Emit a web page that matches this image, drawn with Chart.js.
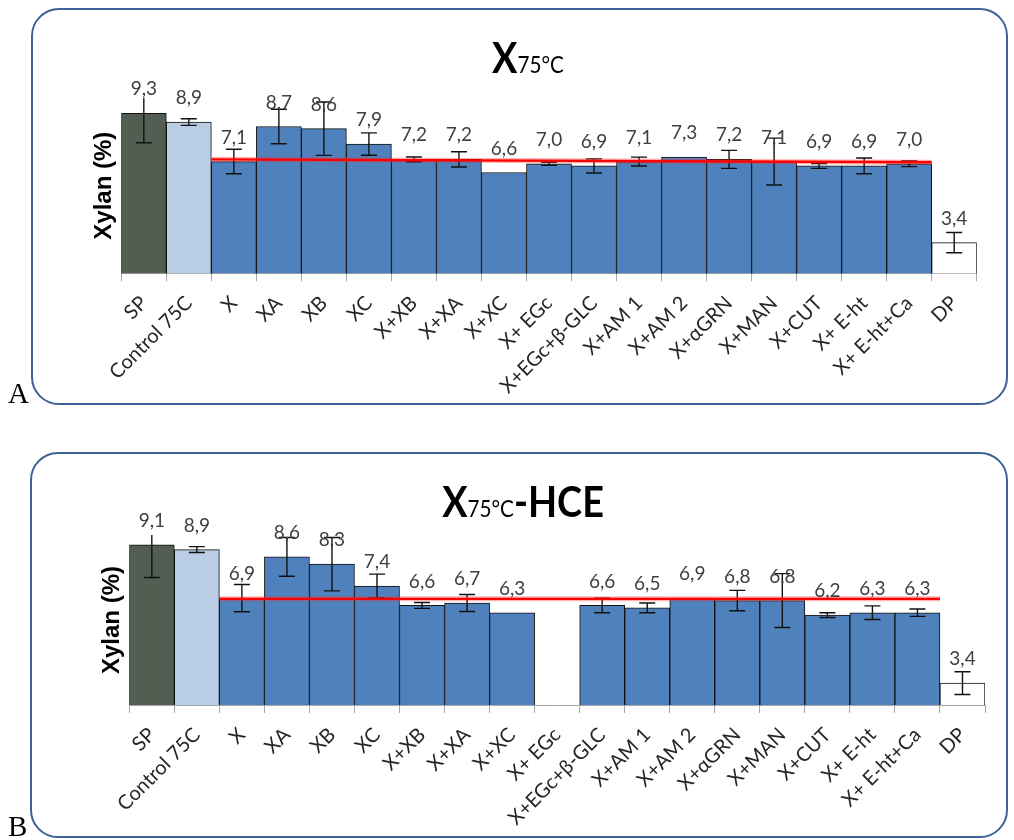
<!DOCTYPE html>
<html>
<head>
<meta charset="utf-8">
<script src="https://cdn.jsdelivr.net/npm/chart.js@4.4.1/dist/chart.umd.min.js"></script>
<style>
  html, body { margin: 0; padding: 0; background: #fff; }
  body { width: 1014px; height: 840px; position: relative; overflow: hidden; }
  .frame { position: absolute; border: 2px solid #3d6297; border-radius: 28px; box-sizing: border-box; }
  .tag { position: absolute; font-family: "Liberation Serif", "Times New Roman", serif; font-size: 29px; line-height: 1; color: #000; }
  canvas { position: absolute; left: 0; }
</style>
</head>
<body>
<div class="frame" style="left:31px;top:8px;width:977px;height:397px"></div>
<div class="frame" style="left:30px;top:452px;width:978px;height:386px"></div>
<canvas id="chartA" width="1014" height="420" style="top:0"></canvas>
<canvas id="chartB" width="1014" height="420" style="top:420px"></canvas>
<div class="tag" style="left:8px;top:379px">A</div>
<div class="tag" style="left:8px;top:812px">B</div>

<script>
// Treatments shown on the x axis (same order in both panels)
const categories = ['SP', 'Control 75C', 'X', 'XA', 'XB', 'XC', 'X+XB', 'X+XA', 'X+XC', 'X+ EGc',
  'X+EGc+β-GLC', 'X+AM 1', 'X+AM 2', 'X+αGRN', 'X+MAN', 'X+CUT', 'X+ E-ht', 'X+ E-ht+Ca', 'DP'];

// Panel A: X 75°C — xylan content (%) and standard deviations
const xylanA = [9.3, 8.9, 7.1, 8.7, 8.6, 7.9, 7.2, 7.2, 6.6, 7.0, 6.9, 7.1, 7.3, 7.2, 7.1, 6.9, 6.9, 7.0, 3.4];
const sdA    = [1.34, 0.15, 0.56, 0.79, 1.22, 0.51, 0.11, 0.35, 0, 0.07, 0.32, 0.2, 0, 0.41, 1.07, 0.11, 0.36, 0.13, 0.46];
const refA   = [7.2, 7.07];   // reference line level at its start / end

// Panel B: X 75°C-HCE — xylan content (%) and standard deviations (X+ EGc not measured)
const xylanB = [9.1, 8.9, 6.9, 8.6, 8.3, 7.4, 6.6, 6.7, 6.3, null, 6.6, 6.5, 6.9, 6.8, 6.8, 6.2, 6.3, 6.3, 3.4];
const sdB    = [1.35, 0.12, 0.56, 0.8, 1.1, 0.49, 0.12, 0.35, 0, 0, 0.3, 0.2, 0, 0.42, 1.11, 0.1, 0.28, 0.15, 0.47];
const refB   = [6.87, 6.87];

// The reference line runs from the left edge of "X" to the right edge of "X+ E-ht+Ca"
const refFrom = 'X', refTo = 'X+ E-ht+Ca';

function barColor(cat) {
  if (cat === 'SP') return '#525e51';
  if (cat === 'Control 75C') return '#b9cde5';
  if (cat === 'DP') return '#ffffff';
  return '#4f81bd';
}

const fmt = v => v.toFixed(1).replace('.', ',');

// Error bars, clipped to the plot area
const errorBars = {
  id: 'errorBars',
  afterDatasetDraw(chart, args) {
    const ds = chart.data.datasets[args.index];
    if (!ds.errors) return;
    const { ctx, chartArea: a } = chart;
    const y = chart.scales.y;
    ctx.save();
    ctx.beginPath();
    ctx.rect(a.left, a.top, a.right - a.left, a.bottom - a.top);
    ctx.clip();
    ctx.strokeStyle = '#111';
    ctx.lineWidth = 1.4;
    args.meta.data.forEach((bar, i) => {
      const v = ds.data[i], e = ds.errors[i];
      if (v == null || !e) return;
      const hi = y.getPixelForValue(v + e), lo = y.getPixelForValue(v - e);
      const c = 8;
      ctx.beginPath();
      ctx.moveTo(bar.x, hi); ctx.lineTo(bar.x, lo);
      ctx.moveTo(bar.x - c, hi); ctx.lineTo(bar.x + c, hi);
      ctx.moveTo(bar.x - c, lo); ctx.lineTo(bar.x + c, lo);
      ctx.stroke();
    });
    ctx.restore();
  }
};

// Red reference line across the treatment bars
const refLine = {
  id: 'refLine',
  afterDatasetsDraw(chart, args, opts) {
    if (!opts.values) return;
    const xs = chart.scales.x, ys = chart.scales.y, ctx = chart.ctx;
    const half = (xs.getPixelForValue(1) - xs.getPixelForValue(0)) / 2;
    const x0 = xs.getPixelForValue(categories.indexOf(refFrom)) - half;
    const x1 = xs.getPixelForValue(categories.indexOf(refTo)) + half;
    ctx.save();
    ctx.strokeStyle = 'rgba(255, 40, 40, 0.35)';
    ctx.lineWidth = 5;
    ctx.beginPath();
    ctx.moveTo(x0, ys.getPixelForValue(opts.values[0]));
    ctx.lineTo(x1, ys.getPixelForValue(opts.values[1]));
    ctx.stroke();
    ctx.strokeStyle = '#ff0000';
    ctx.lineWidth = 2.4;
    ctx.stroke();
    ctx.restore();
  }
};

// Value labels above each bar
const valueLabels = {
  id: 'valueLabels',
  afterDatasetsDraw(chart) {
    const ctx = chart.ctx;
    chart.data.datasets.forEach((ds, di) => {
      if (!ds.errors) return;
      const meta = chart.getDatasetMeta(di);
      ctx.save();
      ctx.font = '19px Lato, "Noto Sans", sans-serif';
      ctx.fillStyle = '#404040';
      ctx.textAlign = 'center';
      ctx.textBaseline = 'middle';
      meta.data.forEach((bar, i) => {
        const v = ds.data[i];
        if (v == null) return;
        ctx.fillText(fmt(v), bar.x, bar.y - 24);
      });
      ctx.restore();
    });
  }
};

// Panel heading made of differently sized parts
const panelTitle = {
  id: 'panelTitle',
  afterDraw(chart, args, opts) {
    if (!opts.parts) return;
    const ctx = chart.ctx;
    const sx = opts.squeeze || 1;
    ctx.save();
    ctx.fillStyle = '#000';
    ctx.textBaseline = 'alphabetic';
    ctx.textAlign = 'left';
    const widths = opts.parts.map(p => { ctx.font = p.font; return ctx.measureText(p.text).width * sx; });
    const total = widths.reduce((s, w) => s + w, 0);
    let x = opts.centerX - total / 2;
    opts.parts.forEach((p, i) => {
      ctx.font = p.font;
      ctx.save();
      ctx.translate(x, opts.baseline);
      ctx.scale(sx, 1);
      ctx.fillText(p.text, 0, 0);
      ctx.restore();
      x += widths[i];
    });
    ctx.restore();
  }
};

function makeChart(id, values, errors, ref, cfg) {
  return new Chart(document.getElementById(id), {
    type: 'bar',
    data: {
      labels: categories,
      datasets: [{
        data: values,
        errors: errors,
        backgroundColor: categories.map(barColor),
        borderColor: '#111',
        borderWidth: 1,
        categoryPercentage: 1,
        barPercentage: 1
      }]
    },
    options: {
      responsive: false,
      devicePixelRatio: 1,
      animation: false,
      layout: { padding: { top: cfg.top, left: cfg.left, right: cfg.right, bottom: 0 } },
      plugins: {
        legend: { display: false },
        tooltip: { enabled: false },
        refLine: { values: ref },
        panelTitle: { parts: cfg.title, centerX: cfg.titleX, baseline: cfg.titleY, squeeze: 0.9 }
      },
      scales: {
        x: {
          type: 'category',
          offset: true,
          afterFit: s => { s.height = cfg.xHeight; },
          grid: { offset: true, drawOnChartArea: false, drawTicks: true, tickLength: 8, color: '#a6a6a6' },
          border: { display: true, color: '#a6a6a6' },
          ticks: {
            autoSkip: false, minRotation: 45, maxRotation: 45, padding: 10,
            color: '#262626', font: { family: 'Lato, "Noto Sans", sans-serif', size: 20 }
          }
        },
        y: {
          min: cfg.yMin, max: cfg.yMax,
          afterFit: s => { s.width = cfg.yWidth; },
          ticks: { display: false },
          grid: { display: false },
          border: { display: false },
          title: {
            display: true, text: 'Xylan (%)', color: '#000',
            font: { family: '"Liberation Sans", Arial, sans-serif', size: 24, weight: 'bold' }
          }
        }
      }
    },
    plugins: [errorBars, refLine, valueLabels, panelTitle]
  });
}

makeChart('chartA', xylanA, sdA, refA, {
  yMin: 2, yMax: 10, top: 98, left: 85.6, right: 37.3, yWidth: 35.7, xHeight: 146.7,
  titleX: 528, titleY: 73,
  title: [
    { text: 'X', font: 'bold 42px Lato, sans-serif' },
    { text: '75°C', font: '23px Lato, sans-serif' }
  ]
});

makeChart('chartB', xylanB, sdB, refB, {
  yMin: 2.5, yMax: 9.5, top: 115, left: 93.6, right: 29, yWidth: 35.7, xHeight: 135,
  titleX: 523, titleY: 97,
  title: [
    { text: 'X', font: 'bold 42px Lato, sans-serif' },
    { text: '75°C', font: '23px Lato, sans-serif' },
    { text: '-HCE', font: 'bold 42px Lato, sans-serif' }
  ]
});
</script>
</body>
</html>
